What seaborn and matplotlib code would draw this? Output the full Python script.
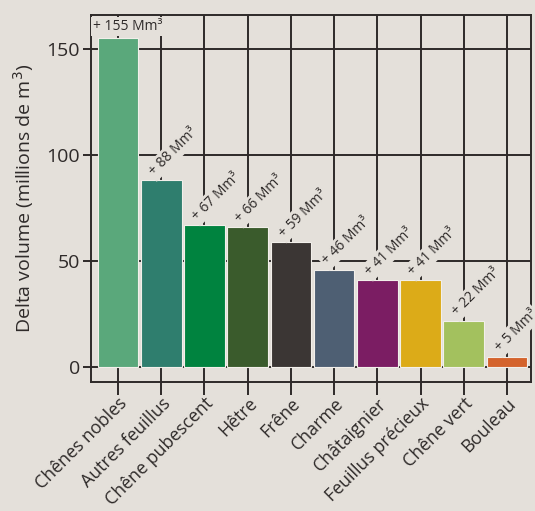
import matplotlib
matplotlib.use("Agg")
import matplotlib.pyplot as plt
import seaborn as sns
import pandas as pd

# Increase in standing volume by species (millions of m³)
species = ["Chênes nobles", "Autres feuillus", "Chêne pubescent", "Hêtre", "Frêne",
           "Charme", "Châtaignier", "Feuillus précieux", "Chêne vert", "Bouleau"]
delta_volume = [155, 88, 67, 66, 59, 46, 41, 41, 22, 5]
bar_colors = ["#5aa87b", "#2f7e6e", "#00833f", "#3a5b2c", "#3b3634",
              "#4e5f73", "#7b1d63", "#dcab18", "#a3c15e", "#d4632c"]
y_ticks = [0, 50, 100, 150]

bg = "#e4e0da"
ink = "#2e2a29"

sns.set_theme(style="white")
plt.rcParams["font.family"] = ["Open Sans", "DejaVu Sans"]

df = pd.DataFrame({"species": species, "volume": delta_volume})

fig = plt.figure(figsize=(5.35, 5.11), dpi=100, facecolor=bg)
ax = fig.add_axes([0.170, 0.252, 0.823, 0.719], facecolor=bg)

sns.barplot(data=df, x="species", y="volume", hue="species", order=species,
            palette=dict(zip(species, bar_colors)), legend=False, width=0.94,
            saturation=1, edgecolor="#f2efea", linewidth=0.8, ax=ax, zorder=3)

ax.set_xlim(-0.625, 9.56)
ax.set_ylim(-7, 166)
ax.set_yticks(y_ticks)
ax.set_axisbelow(True)
ax.grid(True, color=ink, linewidth=1.4)

for s in ax.spines.values():
    s.set_color(ink)
    s.set_linewidth(1.4)

ax.tick_params(axis="y", length=6, width=1.4, color=ink, labelsize=14,
               labelcolor=ink, left=True, pad=2)
ax.tick_params(axis="x", length=9, width=1.4, color=ink, labelsize=12.8,
               labelcolor=ink, bottom=True, pad=0)
plt.setp(ax.get_xticklabels(), rotation=45, ha="right", rotation_mode="anchor")

ax.set_xlabel("")
ax.set_ylabel("Delta volume (millions de m$^{3}$)", fontsize=14, color=ink, labelpad=7)

box = dict(boxstyle="square,pad=0.15", fc=bg, ec="none")
for i, v in enumerate(delta_volume):
    label = f"+ {v} Mm³"
    if i == 0:
        ax.annotate(label, xy=(-0.58, v), xytext=(0, 3), textcoords="offset points",
                    ha="left", va="bottom", fontsize=10, color=ink, bbox=box, zorder=4)
    else:
        ax.annotate(label, xy=(i, v), xytext=(-7, 5), textcoords="offset points",
                    ha="left", va="center", rotation=45, rotation_mode="anchor",
                    fontsize=10, color=ink, bbox=box, zorder=4)

fig.savefig("out.png", dpi=100, facecolor=bg)
